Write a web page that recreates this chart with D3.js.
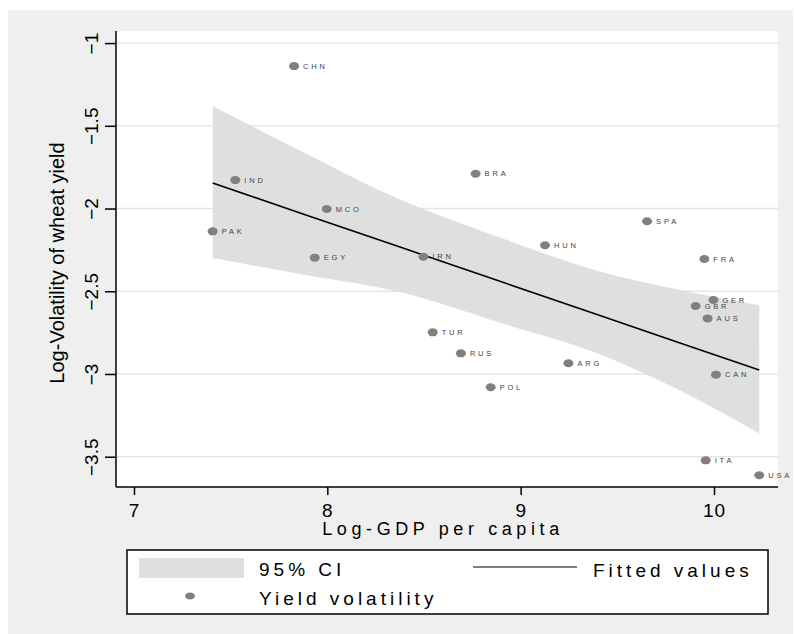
<!DOCTYPE html>
<html>
<head>
<meta charset="utf-8">
<script src="https://cdn.jsdelivr.net/npm/d3@7"></script>
<style>
  body { margin: 0; background: #fff; }
  svg { display: block; font-family: "Liberation Sans", Arial, sans-serif; }
</style>
</head>
<body>
<svg id="chart" width="794" height="634"></svg>
<script>
// countries and values
const countries = ["CHN", "IND", "MCO", "PAK", "EGY", "IRN", "BRA", "HUN", "SPA", "FRA",
  "GER", "GBR", "AUS", "TUR", "RUS", "ARG", "POL", "CAN", "ITA", "USA"];
const logGdp = [7.828, 7.524, 7.997, 7.407, 7.935, 8.497, 8.767, 9.126, 9.654, 9.950,
  9.997, 9.905, 9.967, 8.545, 8.691, 9.247, 8.845, 10.010, 9.957, 10.234];
const logVol = [-1.139, -1.828, -2.003, -2.138, -2.297, -2.291, -1.790, -2.222, -2.077, -2.305,
  -2.553, -2.589, -2.664, -2.748, -2.875, -2.935, -3.080, -3.004, -3.522, -3.612];

// fitted line and 95% band
const fitX = [7.407, 7.859, 8.376, 8.893, 9.410, 9.824, 10.234];
const fitY = [-1.846, -2.027, -2.233, -2.440, -2.647, -2.812, -2.976];
const ciUpper = [-1.381, -1.650, -1.945, -2.175, -2.380, -2.492, -2.585];
const ciLower = [-2.299, -2.395, -2.505, -2.690, -2.880, -3.100, -3.358];

const xTicks = [7, 8, 9, 10];
const yTicks = [-1, -1.5, -2, -2.5, -3, -3.5];

const margin = { top: 31, right: 16, bottom: 147, left: 116 };
const width = 794 - margin.left - margin.right;
const height = 634 - margin.top - margin.bottom;

const svg = d3.select("#chart");

// grey graph region
svg.append("rect")
  .attr("x", 8).attr("y", 10)
  .attr("width", 785).attr("height", 624)
  .attr("fill", "#efefef");

const g = svg.append("g")
  .attr("transform", `translate(${margin.left}, ${margin.top})`);

g.append("rect")
  .attr("width", width).attr("height", height)
  .attr("fill", "#fff");

const x = d3.scaleLinear().domain([6.907, 10.331]).range([0, width]);
const y = d3.scaleLinear().domain([-0.927, -3.683]).range([0, height]);

// horizontal grid
g.selectAll(".grid")
  .data(yTicks)
  .join("line")
  .attr("x1", 0).attr("x2", width)
  .attr("y1", (d) => y(d)).attr("y2", (d) => y(d))
  .attr("stroke", "#e6e6e6")
  .attr("stroke-width", 1.5);

// confidence band
const band = fitX.map((d, i) => ({ x: d, lo: ciLower[i], hi: ciUpper[i] }));
g.append("path")
  .datum(band)
  .attr("fill", "#dfdfdf")
  .attr("d", d3.area()
    .curve(d3.curveMonotoneX)
    .x((d) => x(d.x))
    .y0((d) => y(d.lo))
    .y1((d) => y(d.hi)));

// fitted line
const fit = fitX.map((d, i) => ({ x: d, y: fitY[i] }));
g.append("path")
  .datum(fit)
  .attr("fill", "none")
  .attr("stroke", "#000")
  .attr("stroke-width", 1.6)
  .attr("d", d3.line().x((d) => x(d.x)).y((d) => y(d.y)));

// points + labels
const pts = countries.map((c, i) => ({ c, x: logGdp[i], y: logVol[i] }));
g.selectAll(".pt")
  .data(pts)
  .join("ellipse")
  .attr("cx", (d) => x(d.x))
  .attr("cy", (d) => y(d.y))
  .attr("rx", 5).attr("ry", 4)
  .attr("fill", "#808080");

g.selectAll(".lbl")
  .data(pts)
  .join("text")
  .attr("x", (d) => x(d.x) + 9)
  .attr("y", (d) => y(d.y) + 2.6)
  .attr("font-size", 7.5)
  .attr("letter-spacing", 2.8)
  .attr("fill", "#444")
  .text((d) => d.c);

// axes
const yAxis = g.append("g")
  .call(d3.axisLeft(y).tickValues(yTicks).tickSize(11).tickSizeOuter(0).tickFormat(d3.format("")));
yAxis.select(".domain").attr("stroke-width", 1.5).attr("d", `M0,0V${height}`);
yAxis.selectAll(".tick line").attr("stroke-width", 1.5);
yAxis.selectAll(".tick text")
  .attr("transform", "rotate(-90)")
  .attr("x", 0).attr("y", -18).attr("dy", 0)
  .attr("text-anchor", "middle")
  .attr("font-size", 19)
  .attr("fill", "#000")
  .attr("font-family", "Liberation Sans, Arial, sans-serif");

const xAxis = g.append("g")
  .attr("transform", `translate(0, ${height})`)
  .call(d3.axisBottom(x).tickValues(xTicks).tickSize(8).tickSizeOuter(0).tickFormat(d3.format("d")));
xAxis.select(".domain").attr("stroke-width", 1.5).attr("d", `M0,0H${width}`);
xAxis.selectAll(".tick line").attr("stroke-width", 1.5);
xAxis.selectAll(".tick text")
  .attr("y", 30).attr("dy", 0)
  .attr("font-size", 19)
  .attr("letter-spacing", 1)
  .attr("fill", "#000")
  .attr("font-family", "Liberation Sans, Arial, sans-serif");

// axis titles
svg.append("text")
  .attr("transform", "translate(64, 263) rotate(-90)")
  .attr("text-anchor", "middle")
  .attr("font-size", 20)
  .text("Log-Volatility of wheat yield");

svg.append("text")
  .attr("x", 443).attr("y", 535)
  .attr("text-anchor", "middle")
  .attr("font-size", 18)
  .attr("letter-spacing", 4.6)
  .text("Log-GDP per capita");

// legend
const legend = svg.append("g");
legend.append("rect")
  .attr("x", 127).attr("y", 550)
  .attr("width", 641).attr("height", 64)
  .attr("fill", "#fff")
  .attr("stroke", "#000")
  .attr("stroke-width", 1.5);

legend.append("rect")
  .attr("x", 139).attr("y", 558)
  .attr("width", 105).attr("height", 20)
  .attr("fill", "#dfdfdf");
legend.append("line")
  .attr("x1", 473).attr("x2", 577)
  .attr("y1", 567).attr("y2", 567)
  .attr("stroke", "#000").attr("stroke-width", 1);
legend.append("ellipse")
  .attr("cx", 190).attr("cy", 596)
  .attr("rx", 5).attr("ry", 3.5)
  .attr("fill", "#808080");

const legendItems = [
  { t: "95% CI", x: 259, y: 576 },
  { t: "Fitted values", x: 593, y: 577 },
  { t: "Yield volatility", x: 259, y: 605 }
];
legend.selectAll(".lt")
  .data(legendItems)
  .join("text")
  .attr("x", (d) => d.x).attr("y", (d) => d.y)
  .attr("font-size", 19)
  .attr("letter-spacing", 4)
  .text((d) => d.t);
</script>
</body>
</html>
